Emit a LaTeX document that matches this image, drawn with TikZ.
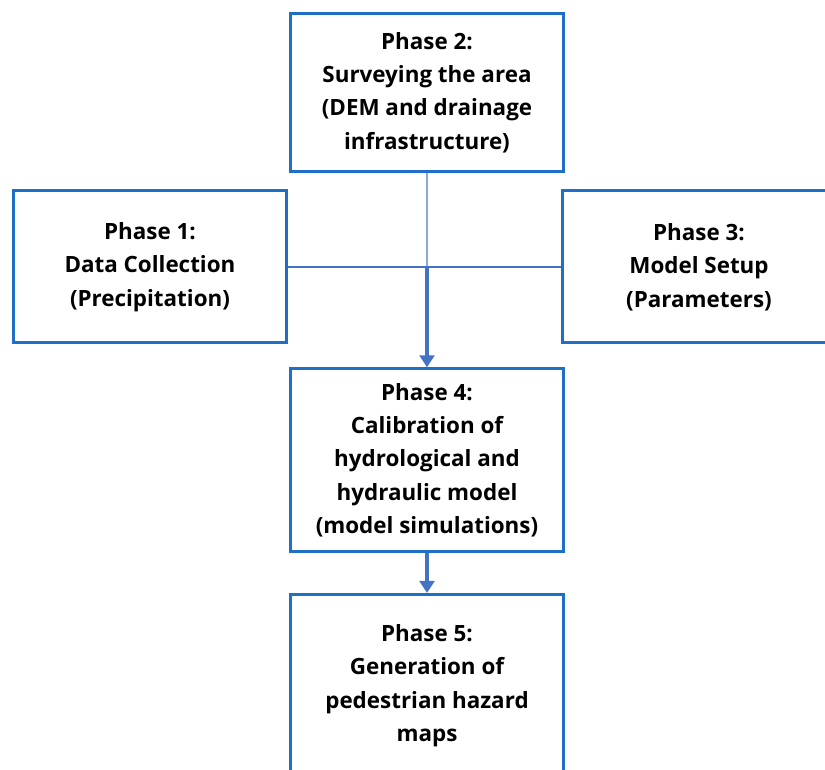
\documentclass[tikz,border=0pt]{standalone}
\usepackage{fontspec}
\setmainfont{Open Sans}
\usetikzlibrary{arrows.meta, positioning}
\definecolor{boxblue}{RGB}{31,111,198}
\definecolor{lineblue}{RGB}{68,114,196}
\definecolor{paleblue}{RGB}{140,168,222}
\tikzset{
    phase/.style={
        draw=boxblue,
        line width=2.25pt,
        minimum width=205pt,
        align=center,
        inner sep=0pt,
        font=\bfseries\fontsize{16.8}{25}\selectfont
    },
    link/.style={draw=lineblue, line width=1.2pt},
    flow/.style={-{Triangle[width=11pt,length=9pt]}, draw=lineblue, line width=3pt}
}

\begin{document}
\begin{tikzpicture}[x=0.75pt, y=0.75pt]
\clip (0,0) rectangle (825,770);
\node[phase, minimum height=119pt] (p2) at (427,677.5) {Phase 2:\\Surveying the area\\(DEM and drainage\\infrastructure)};
\node[phase, minimum height=114pt] (p1) at (150,503) {Phase 1:\\Data Collection\\(Precipitation)};
\node[phase, minimum height=114pt] (p3) at (699,503) {Phase 3:\\Model Setup\\(Parameters)};
\node[phase, minimum height=137pt, below=145.5pt of p2] (p4) {Phase 4:\\Calibration of\\hydrological and\\hydraulic model\\(model simulations)};
\node[phase, minimum height=137pt, below=30pt of p4] (p5) {Phase 5:\\Generation of\\pedestrian hazard\\maps};

\coordinate (hub) at (p2.south |- p1.east);
\draw[link, draw=paleblue] (p2.south) -- (hub);
\draw[link] (p1.east) -- (p3.west);
\draw[flow] (hub) -- (p4.north);
\draw[flow] (p4) -- (p5);
\end{tikzpicture}
\end{document}
